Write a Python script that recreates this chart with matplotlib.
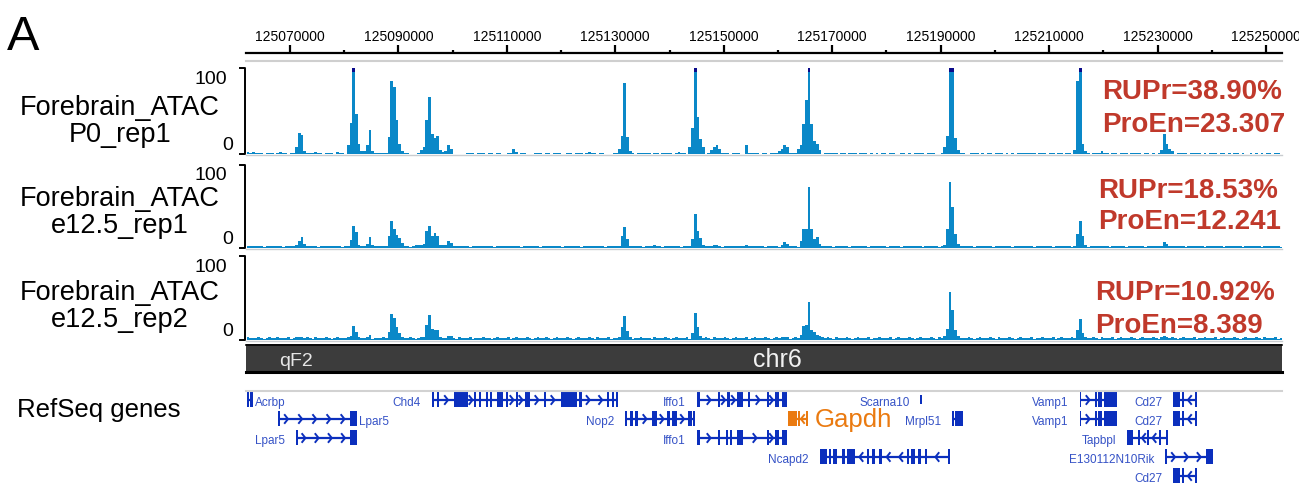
import numpy as np
import matplotlib
matplotlib.use("Agg")
import matplotlib.pyplot as plt
from matplotlib.patches import Rectangle
import matplotlib.transforms as mtrans

plt.rcParams['font.family'] = ['Liberation Sans', 'DejaVu Sans']

# ---------------- data ----------------
view_kb = (125061.9, 125252.95)
ruler_major_bp = [125070000, 125090000, 125110000, 125130000, 125150000,
                  125170000, 125190000, 125210000, 125230000, 125250000]
ruler_minor_bp = [125080000, 125100000, 125120000, 125140000, 125160000,
                  125180000, 125200000, 125220000, 125240000]

bin_start_kb = 125062.0
bin_kb = 0.5
n_bins = 382

track_titles = [("Forebrain_ATAC", "P0_rep1"),
                ("Forebrain_ATAC", "e12.5_rep1"),
                ("Forebrain_ATAC", "e12.5_rep2")]
rupr_text = ["RUPr=38.90%", "RUPr=18.53%", "RUPr=10.92%"]
proen_text = ["ProEn=23.307", "ProEn=12.241", "ProEn=8.389"]
y_scale = (0, 100)

# peaks: (start kb, consecutive 0.5 kb bin values)
p0_peaks = [
    (125071.0, [8, 24, 22, 4]),
    (125080.5, [10, 36, 110, 47, 12, 4, 3]),
    (125084.0, [10, 28, 3]),
    (125088.0, [20, 85, 78, 40, 12, 4]),
    (125094.0, [5, 8, 40, 66, 23, 19, 21, 5]),
    (125098.5, [4, 10, 6]),
    (125111.0, [6]),
    (125130.5, [6, 21, 83, 20, 4]),
    (125143.5, [8, 30, 110, 43, 17, 8]),
    (125147.5, [5, 8, 10, 6]),
    (125154.0, [11]),
    (125160.0, [4, 6, 10, 8]),
    (125163.5, [6, 10, 35, 63, 110, 35, 15, 12, 5]),
    (125190.5, [8, 21, 110, 105, 19, 5]),
    (125214.5, [5, 85, 110, 12, 4]),
    (125219.5, [4]),
    (125230.5, [5, 23, 12, 6, 4]),
]
e125_rep1_peaks = [
    (125071.0, [4, 9, 13, 5]),
    (125081.0, [10, 27, 19, 4, 3, 3]),
    (125084.0, [5, 13, 4, 3, 3]),
    (125088.0, [15, 33, 23, 16, 12, 6, 3]),
    (125093.0, [4, 4, 4, 5, 20, 27, 14, 18, 15, 4, 4, 4, 9, 6, 3]),
    (125130.5, [3, 15, 25, 11, 3]),
    (125137.0, [4]),
    (125144.0, [11, 41, 21, 12, 4]),
    (125147.5, [3, 4, 4, 3]),
    (125154.0, [4]),
    (125160.5, [4, 7, 5]),
    (125164.0, [9, 23, 23, 73, 23, 11, 13, 5]),
    (125190.0, [3, 4, 23, 80, 49, 17, 5]),
    (125214.5, [3, 17, 33, 14, 4]),
    (125230.5, [3, 7, 5]),
]
e125_rep2_peaks = [
    (125071.0, [2, 4, 3]),
    (125081.0, [5, 17, 10, 3]),
    (125084.5, [6]),
    (125088.0, [10, 31, 26, 15, 8, 3]),
    (125094.0, [3, 4, 18, 30, 13, 12, 12, 3, 2, 2, 5, 5]),
    (125130.5, [4, 15, 28, 11, 3]),
    (125144.0, [8, 32, 15, 5]),
    (125154.0, [4]),
    (125160.5, [3, 4, 3]),
    (125164.0, [6, 17, 18, 45, 12, 10, 6, 5, 3]),
    (125190.5, [5, 13, 57, 36, 12, 5]),
    (125215.0, [12, 25, 8, 3]),
    (125231.0, [5, 4]),
]
# low background signal, one digit per 0.5 kb bin
p0_background = (
    "212111011101211011100011121101110211001101111211"
    "111110112011000111011101201100000111011101101100"
    "111201100011101101110011011101211011000110111110"
    "111110110111101211010110101112111101110011111011"
    "011121101110100111010111110110111011101010110110"
    "011010111101110011121011100111010110111010101111"
    "111011101101101101011110111211011011101111011010"
    "111011011110111101011101101011010010101011011001"
)
e125_rep1_background = (
    "223232122322312232221232231223222321222322312232"
    "232212232232132223222312232122322213223222312222"
    "322321223222132232221322232123222322132223212322"
    "231222322123222312232223122322213222322312223221"
    "222312232221322231222322132223122232212232221322"
    "312223222132223122322213222312232221322232122232"
    "221322232122232212232213222322132223122322213222"
    "322132223212232221322232122232212232221322232120"
)
e125_rep2_background = (
    "322232123223222312322232132223212322231232223212"
    "223222312322321232223123222321322231222322123222"
    "312322232123223212322232123222321322231223222312"
    "232221322232123222312322232132223212322231232223"
    "212322231232223212322232132223212322231223222312"
    "322232123222321322231232223212322232132223212322"
    "231223222312322232123222321322231232223212322232"
    "132223212322231223222312322232123222321322231220"
)

chrom_name = "chr6"
band_name = "qF2"
gene_track_title = "RefSeq genes"

# genes: name, display row, strand, exons (kb)
genes = [
    ("Acrbp", 0, "-", [(125062.07, 125062.35), (125062.71, 125063.18)]),
    ("Lpar5", 1, "+", [(125067.79, 125068.05), (125081.07, 125082.36)]),
    ("Lpar5", 2, "+", [(125071.11, 125071.35), (125081.07, 125082.36)]),
    ("Chd4", 0, "+", [(125096.19, 125096.37), (125097.11, 125097.48), (125100.25, 125102.83),
                      (125103.94, 125104.30), (125104.86, 125105.23), (125106.15, 125106.33),
                      (125106.89, 125107.26), (125108.18, 125109.28), (125109.84, 125110.21),
                      (125111.68, 125111.87), (125113.34, 125114.26), (125116.85, 125117.03),
                      (125119.98, 125122.93), (125123.30, 125123.85), (125128.46, 125128.83),
                      (125129.39, 125129.76), (125130.12, 125130.49)]),
    ("Nop2", 1, "+", [(125131.78, 125132.15), (125132.71, 125133.26), (125133.63, 125134.18),
                      (125136.76, 125137.69), (125139.53, 125140.08), (125140.45, 125141.37),
                      (125143.40, 125144.14), (125144.33, 125144.69)]),
    ("Iffo1", 0, "+", [(125145.06, 125145.62), (125148.94, 125149.31), (125150.60, 125151.15),
                       (125152.44, 125153.55), (125154.47, 125154.65), (125157.97, 125158.16),
                       (125159.45, 125160.19), (125160.74, 125161.66)]),
    ("Iffo1", 2, "+", [(125145.06, 125145.62), (125148.94, 125149.31), (125150.41, 125150.78),
                       (125151.15, 125151.52), (125152.44, 125153.55), (125157.97, 125158.16),
                       (125159.45, 125160.19), (125160.74, 125161.66)]),
    ("Gapdh", 1, "-", [(125161.85, 125163.51), (125163.70, 125163.88), (125165.17, 125165.54)]),
    ("Ncapd2", 3, "-", [(125167.75, 125169.04), (125169.41, 125169.78), (125170.15, 125170.88),
                        (125171.81, 125172.36), (125172.73, 125174.20), (125176.42, 125176.79),
                        (125177.34, 125177.89), (125178.63, 125179.18), (125183.79, 125184.16),
                        (125184.53, 125185.27), (125185.82, 125186.38), (125187.11, 125187.30),
                        (125191.36, 125191.72)]),
    ("Scarna10", 0, "+", [(125186.28, 125186.47)]),
    ("Mrpl51", 1, "-", [(125192.09, 125192.28), (125192.65, 125194.12)]),
    ("Vamp1", 0, "+", [(125215.61, 125215.88), (125218.47, 125218.84), (125219.02, 125219.76),
                       (125220.13, 125222.43)]),
    ("Vamp1", 1, "+", [(125215.61, 125215.88), (125218.47, 125218.84), (125219.02, 125219.76),
                       (125220.13, 125222.43)]),
    ("Tapbpl", 2, "-", [(125224.37, 125225.47), (125226.40, 125226.77), (125228.06, 125228.43),
                        (125230.27, 125230.64), (125231.56, 125231.93)]),
    ("E130112N10Rik", 3, "+", [(125231.38, 125231.75), (125238.85, 125240.14)]),
    ("Cd27", 0, "-", [(125232.94, 125234.14), (125234.51, 125234.88), (125236.91, 125237.28)]),
    ("Cd27", 1, "-", [(125232.94, 125234.14), (125234.51, 125234.88), (125236.91, 125237.28)]),
    ("Cd27", 4, "-", [(125232.94, 125234.14), (125234.51, 125234.88), (125236.91, 125237.28)]),
]
highlight_gene = "Gapdh"
noncoding_genes = ["Scarna10"]

# ---------------- styles / layout ----------------
W, H = 1299, 483
X0, X1 = 246, 1282
BAR = "#0a88c8"
CAP = "#0a0a8a"
RED = "#c0392b"
GENE = "#0b2fbd"
GENE_LABEL = "#3552c6"
ORANGE = "#ea7a10"
track_boxes = [(68, 154), (165, 248), (256, 340)]
title_baselines = [(115, 142), (206, 233), (300, 327)]
stat_pos = [(1102, 99, 132), (1098, 198, 229), (1095, 300, 333)]

fig = plt.figure(figsize=(W / 100, H / 100), dpi=100)


def px_axes(x0, y0, x1, y1):
    return fig.add_axes([x0 / W, 1 - y1 / H, (x1 - x0) / W, (y1 - y0) / H])


def build(peaks, bg):
    v = np.array([int(c) for c in bg[:n_bins].ljust(n_bins, "0")], dtype=float)
    for start, vals in peaks:
        i0 = int(round((start - bin_start_kb) / bin_kb))
        for k, val in enumerate(vals):
            v[i0 + k] = max(v[i0 + k], val)
    return v


tracks = [build(p0_peaks, p0_background),
          build(e125_rep1_peaks, e125_rep1_background),
          build(e125_rep2_peaks, e125_rep2_background)]
lefts = bin_start_kb + np.arange(n_bins) * bin_kb

# ruler
rx = px_axes(X0, 53, X1, 60)
rx.set_xlim(view_kb)
rx.set_ylim(0, 1)
for sp in ["bottom", "left", "right"]:
    rx.spines[sp].set_visible(False)
rx.spines["top"].set_linewidth(1.6)
rx.xaxis.tick_top()
rx.set_xticks([b / 1000 for b in ruler_major_bp])
rx.set_xticklabels([str(b) for b in ruler_major_bp])
rx.set_xticks([b / 1000 for b in ruler_minor_bp], minor=True)
rx.tick_params(axis="x", which="major", direction="out", length=5.8, width=1.6,
               pad=0.5, labelsize=10)
rx.tick_params(axis="x", which="minor", direction="out", length=2.2, width=1.6)
rx.set_yticks([])
rx.patch.set_alpha(0)

# signal tracks
for (top, bot), vals in zip(track_boxes, tracks):
    ax = px_axes(X0, top, X1, bot)
    ax.set_xlim(view_kb)
    ax.set_ylim(*y_scale)
    ax.axis("off")
    ax.bar(lefts, np.minimum(vals, y_scale[1]), width=bin_kb, align="edge",
           color=BAR, linewidth=0, antialiased=False)
    sat = vals > y_scale[1]
    ax.bar(lefts[sat], 5, bottom=95, width=bin_kb, align="edge", color=CAP,
           linewidth=0, antialiased=False)

# gene track
gx = px_axes(X0, 392, X1, H)
gx.set_xlim(view_kb)
gx.set_ylim(H, 392)
gx.axis("off")
px_kb = (view_kb[1] - view_kb[0]) / (X1 - X0)
row_y0, row_dy = 400, 19
labels = []
for name, row, strand, exons in genes:
    col = ORANGE if name == highlight_gene else GENE
    y = row_y0 + row * row_dy
    ex = sorted(exons)
    s, e = ex[0][0], max(b for a, b in ex)
    gx.plot([s, e], [y, y], color=col, lw=1.6, solid_capstyle="butt")
    half = 4.5 if name in noncoding_genes else 7.5
    for a, b in ex:
        w = max(b - a, 1.7 * px_kb)
        gx.add_patch(Rectangle((a, y - half), w, 2 * half, facecolor=col, lw=0))
    d = 1 if strand == "+" else -1
    for (a0, b0), (a1, b1) in zip(ex[:-1], ex[1:]):
        L = (a1 - b0) / px_kb
        if L < 6:
            continue
        n = max(1, int(L // 12))
        for k in range(n):
            p = b0 + (k + 0.5) * (a1 - b0) / n
            gx.plot([p - d * 1.6 * px_kb, p + d * 1.6 * px_kb, p - d * 1.6 * px_kb],
                    [y - 4, y, y + 4], color=col, lw=1.4)
    if name == highlight_gene:
        tr = mtrans.offset_copy(gx.transData, fig=fig, x=7, y=0, units="dots")
        gx.text(e, y + 1, name, ha="left", va="center", fontsize=18.5, color=ORANGE,
                transform=tr, clip_on=False)
    else:
        tr = mtrans.offset_copy(gx.transData, fig=fig, x=-11, y=0, units="dots")
        t = gx.text(s, y + 3, name, ha="right", va="center", fontsize=8.5,
                    color=GENE_LABEL, transform=tr, clip_on=False)
        labels.append((t, e, y))

fig.canvas.draw()
rend = fig.canvas.get_renderer()
for t, e, y in labels:
    bb = t.get_window_extent(rend)
    if bb.x0 < X0:
        t.set_transform(mtrans.offset_copy(gx.transData, fig=fig, x=2, y=0, units="dots"))
        t.set_x(e)
        t.set_ha("left")

# overlay decorations
ov = fig.add_axes([0, 0, 1, 1])
ov.set_xlim(0, W)
ov.set_ylim(H, 0)
ov.axis("off")
ov.patch.set_alpha(0)

ov.text(7, 50, "A", fontsize=35, ha="left", va="baseline")
ov.plot([X0, X1], [61, 61], color="#cfcfcf", lw=1.5)

for i, (top, bot) in enumerate(track_boxes):
    ov.plot([240, 245, 245, 240], [top, top, bot, bot], color="black", lw=1.4)
    ov.plot([X0, X1], [bot + 0.5, bot + 0.5], color="#c9ccd0", lw=1.0, zorder=0)
    ov.text(227, top + 11, "100", fontsize=14, ha="right", va="center")
    ov.text(233, bot - 8, "0", fontsize=14, ha="right", va="center")
    l1, l2 = track_titles[i]
    b1, b2 = title_baselines[i]
    ov.text(120, b1, l1, fontsize=19.5, ha="center", va="baseline")
    ov.text(120, b2, l2, fontsize=19.5, ha="center", va="baseline")
    xs, ya, yb = stat_pos[i]
    ov.text(xs, ya, rupr_text[i], fontsize=20, fontweight="bold", color=RED,
            ha="left", va="baseline")
    ov.text(xs, yb, proen_text[i], fontsize=20, fontweight="bold", color=RED,
            ha="left", va="baseline")

# chromosome ideogram bar
ov.add_patch(Rectangle((X0, 344), X1 - X0, 29, facecolor="#3c3c3c", lw=0))
ov.plot([X0, X1], [344.5, 344.5], color="black", lw=1.2)
ov.plot([X0, X1], [372, 372], color="black", lw=2.2)
ov.text(296, 361, band_name, fontsize=14, color="#e6e6e6", ha="center", va="center")
ov.text(777, 360, chrom_name, fontsize=18, color="#f2f2f2", ha="center", va="center")
ov.plot([X0, X1], [391, 391], color="#d2d2d2", lw=1.5)
ov.text(17, 410, gene_track_title, fontsize=18.5, ha="left", va="center")

fig.savefig("out.png", dpi=100)
